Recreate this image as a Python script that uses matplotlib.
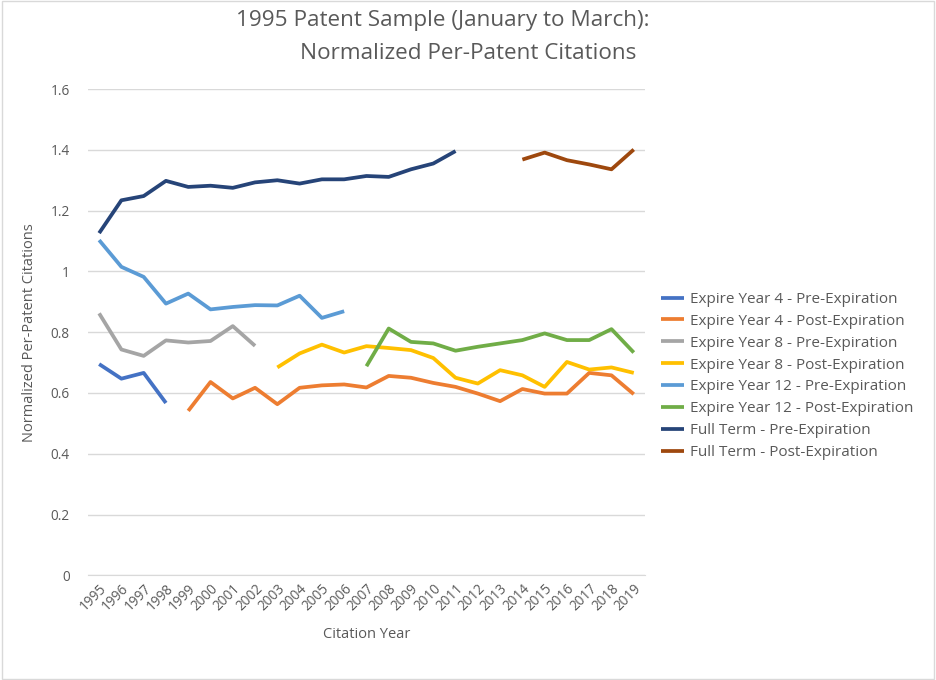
from matplotlib import pyplot as plt
import numpy as np

years = [str(y) for y in range(1995, 2020)]
nan = np.nan

# values per citation year, 1995..2019 (nan = no value)
exp4_pre = [0.695, 0.647, 0.666, 0.567] + [nan] * 21
exp4_post = [nan] * 4 + [0.541, 0.636, 0.582, 0.617, 0.563, 0.617, 0.625, 0.628, 0.618,
                         0.656, 0.650, 0.633, 0.620, 0.598, 0.573, 0.613, 0.598, 0.598,
                         0.666, 0.658, 0.596]
exp8_pre = [0.862, 0.743, 0.722, 0.773, 0.766, 0.771, 0.820, 0.755] + [nan] * 17
exp8_post = [nan] * 8 + [0.684, 0.730, 0.759, 0.733, 0.754, 0.748, 0.741, 0.715, 0.650,
                         0.631, 0.675, 0.658, 0.620, 0.702, 0.677, 0.684, 0.666]
exp12_pre = [1.103, 1.015, 0.982, 0.894, 0.927, 0.875, 0.883, 0.889, 0.888, 0.920,
             0.847, 0.869] + [nan] * 13
exp12_post = [nan] * 12 + [0.688, 0.812, 0.768, 0.763, 0.739, 0.752, 0.763, 0.774,
                           0.796, 0.774, 0.774, 0.810, 0.733]
full_pre = [1.126, 1.234, 1.248, 1.298, 1.278, 1.282, 1.275, 1.293, 1.300, 1.289,
            1.303, 1.303, 1.314, 1.311, 1.336, 1.355, 1.396] + [nan] * 8
full_post = [nan] * 19 + [1.368, 1.391, 1.366, 1.352, 1.336, 1.401]

series = [
    ('Expire Year 4 - Pre-Expiration', exp4_pre, '#4472C4'),
    ('Expire Year 4 - Post-Expiration', exp4_post, '#ED7D31'),
    ('Expire Year 8 - Pre-Expiration', exp8_pre, '#A5A5A5'),
    ('Expire Year 8 - Post-Expiration', exp8_post, '#FFC000'),
    ('Expire Year 12 - Pre-Expiration', exp12_pre, '#5B9BD5'),
    ('Expire Year 12 - Post-Expiration', exp12_post, '#70AD47'),
    ('Full Term - Pre-Expiration', full_pre, '#264478'),
    ('Full Term - Post-Expiration', full_post, '#9E480E'),
]

plt.rcParams['font.family'] = ['Open Sans', 'DejaVu Sans']
txt = '#595959'

fig = plt.figure(figsize=(9.36, 6.8), dpi=100)
ax = fig.add_axes([0.094, 0.154, 0.595, 0.715])
x = np.arange(len(years))
for name, vals, color in series:
    ax.plot(x, vals, color=color, lw=2.7, label=name, solid_capstyle='butt')

ax.set_xlim(-0.5, len(years) - 0.5)
ax.set_ylim(0, 1.6)
ax.set_yticks(np.arange(0, 1.61, 0.2))
ax.set_yticklabels(['0', '0.2', '0.4', '0.6', '0.8', '1', '1.2', '1.4', '1.6'])
ax.set_xticks(x)
ax.set_xticklabels(years, rotation=45, ha='right', rotation_mode='anchor')
ax.grid(axis='y', color='#D9D9D9', lw=1)
ax.set_axisbelow(True)
for s in ['top', 'right', 'left']:
    ax.spines[s].set_visible(False)
ax.spines['bottom'].set_color('#D9D9D9')
ax.tick_params(length=0, colors=txt, labelsize=9.8)
ax.tick_params(axis='y', pad=13)
ax.tick_params(axis='x', pad=4)

ax.set_xlabel('Citation Year', color=txt, fontsize=10.5, labelpad=10)
ax.set_ylabel('Normalized Per-Patent Citations', color=txt, fontsize=10.5, labelpad=10)
fig.text(0.473, 0.970, '1995 Patent Sample (January to March):',
         ha='center', va='center', fontsize=16.2, color=txt)
fig.text(0.500, 0.922, 'Normalized Per-Patent Citations',
         ha='center', va='center', fontsize=16.2, color=txt)

leg = ax.legend(loc='center left', bbox_to_anchor=(1.005, 0.41), frameon=False,
                fontsize=11, handlelength=1.5, handletextpad=0.4, labelspacing=0.45)
for t in leg.get_texts():
    t.set_color(txt)

fig.patches.append(plt.Rectangle((0.002, 0.002), 0.996, 0.996, transform=fig.transFigure,
                                 fill=False, edgecolor='#D9D9D9', lw=1))
fig.savefig('out.png', dpi=100)
